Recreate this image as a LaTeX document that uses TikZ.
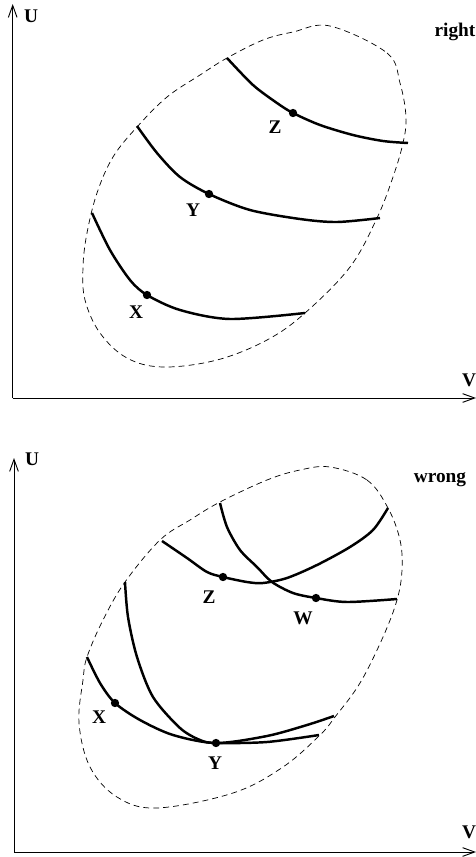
\documentclass[tikz,border=0pt]{standalone}
\usepackage{fontspec}
\setmainfont{Liberation Serif}
\usetikzlibrary{arrows.meta}
\tikzset{
  axis/.style={-{Straight Barb[length=3.6mm,width=2.6mm]},line width=.8pt},
  rim/.style={dashed,dash pattern=on 5pt off 3.5pt,line width=.6pt},
  curve/.style={line width=2.1pt},
  dot/.style={circle,fill,inner sep=0pt,minimum size=2.5mm},
  lbl/.style={font=\bfseries\fontsize{16.5}{18}\selectfont,inner sep=0pt},
  tag/.style={lbl}
}
\begin{document}
\begin{tikzpicture}[x=0.03cm,y=-0.03cm]
\useasboundingbox (0,0) rectangle (476,857);

% upper panel: right
\coordinate (o1) at (12.7,398);
\draw[axis] (o1) -- (12.7,4);
\draw[axis] (o1) -- (476,398);
\node[lbl] (u1) at (31,16) {U};
\node[lbl] (v1) at (469,380) {V};
\node[tag] (right) at (455,32) {right};

\draw[rim] plot[smooth cycle,tension=0.6] coordinates {(330,26) (387,53) (400,83) (406,117) (403,143) (393,177) (377,218) (350,267) (305,313) (267,340) (217,360) (163,367) (127,358) (100,333) (85,300) (83,267) (87,233) (97,193) (113,157) (137,127) (167,97) (200,75) (227,58) (263,40) (293,32)};

\node[dot] (z1) at (293,113) {};
\node[dot] (y1) at (209,194) {};
\node[dot] (x1) at (147,295) {};
\draw[curve] plot[smooth] coordinates {(227,58) (253,85) (277,103) (z1) (320,125) (353,135) (383,141) (408,143)};
\draw[curve] plot[smooth] coordinates {(137,126) (157,153) (180,177) (y1) (250,210) (300,219) (337,222) (380,218)};
\draw[curve] plot[smooth] coordinates {(92,213) (110,250) (130,280) (x1) (180,310) (230,319) (305,313)};
\node[lbl] at (275,127) {Z};
\node[lbl] at (193,210) {Y};
\node[lbl] at (136,312) {X};

% lower panel: wrong
\coordinate (o2) at (14,852);
\draw[axis] (o2) -- (14,458);
\draw[axis] (o2) -- (476,852);
\node[lbl] (u2) at (32,459) {U};
\node[lbl] (v2) at (469,832) {V};
\node[tag] (wrong) at (440,480) {wrong};

\draw[rim] plot[smooth cycle,tension=0.6] coordinates {(330,467) (367,480) (388,508) (400,540) (402,570) (397,600) (383,637) (360,683) (335,717) (320,735) (283,767) (233,793) (157,808) (117,797) (90,767) (79,723) (83,680) (87,657) (103,620) (125,582) (160,540) (190,520) (220,502) (267,480) (300,470)};

\node[dot] (z2) at (223,577) {};
\node[dot] (w2) at (316,598) {};
\node[dot] (x2) at (115,703) {};
\node[dot] (y2) at (216,743) {};
\draw[curve] plot[smooth] coordinates {(162,541) (187,558) (207,572) (z2) (247,582) (263,583) (287,578) (317,565) (350,547) (373,530) (388,508)};
\draw[curve] plot[smooth] coordinates {(220,503) (227,527) (240,550) (257,567) (272,582) (293,593) (w2) (347,602) (397,599)};
\draw[curve] plot[smooth] coordinates {(87,657) (100,683) (x2) (140,720) (173,735) (y2) (267,736) (307,725) (334,716)};
\draw[curve] plot[smooth] coordinates {(125,582) (128,617) (137,657) (153,697) (180,728) (200,740) (y2) (267,742) (319,735)};
\node[lbl] at (209,597) {Z};
\node[lbl] at (303,618) {W};
\node[lbl] at (99,717) {X};
\node[lbl] at (215,763) {Y};
\end{tikzpicture}
\end{document}
